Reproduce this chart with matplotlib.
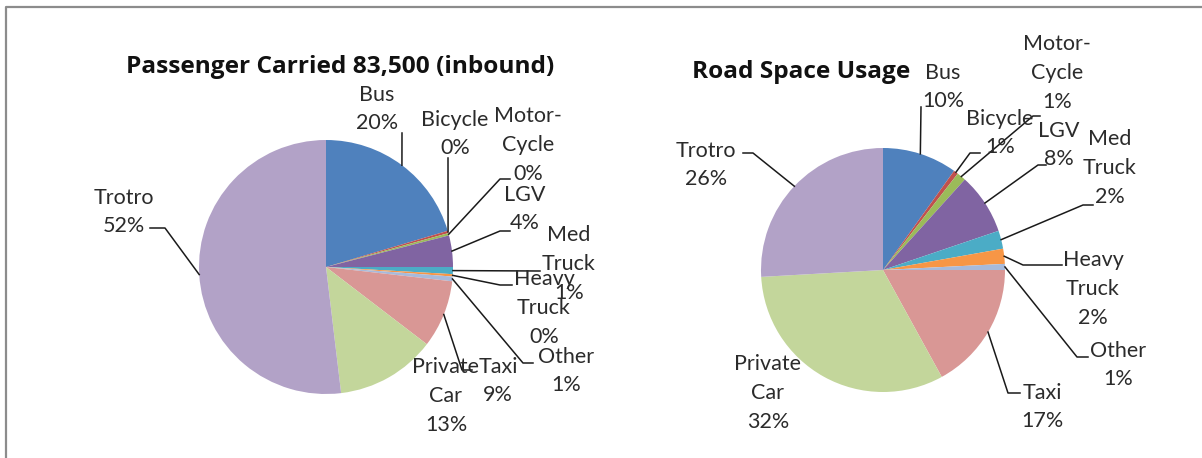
import numpy as np
import matplotlib
matplotlib.use("Agg")
import matplotlib.pyplot as plt

plt.rcParams["font.family"] = ["Lato", "DejaVu Sans"]

W, H = 1202, 458

categorias = ["Bus", "Bicycle", "Motor-Cycle", "LGV", "Med Truck",
              "Heavy Truck", "Other", "Taxi", "Private Car", "Trotro"]
etiquetas = ["Bus", "Bicycle", "Motor-\nCycle", "LGV", "Med\nTruck",
             "Heavy\nTruck", "Other", "Taxi", "Private\nCar", "Trotro"]

# porcentaje de pasajeros transportados (entrada)
pasajeros = [20.4, 0.3, 0.3, 4.0, 0.9, 0.3, 0.6, 8.6, 12.7, 51.9]
# porcentaje del espacio vial ocupado
espacio = [9.9, 0.6, 1.2, 8.1, 2.4, 2.0, 0.8, 17.0, 32.1, 25.9]

colores = ["#4F81BD", "#C0504D", "#9BBB59", "#8064A2", "#4BACC6",
           "#F79646", "#A7BADB", "#D99795", "#C3D69B", "#B2A2C7"]

titulo_izq = "Passenger Carried 83,500 (inbound)"
titulo_der = "Road Space Usage"

# posiciones de las etiquetas (pixeles, y hacia abajo)
pos_izq = [(377, 109), (455, 134), (528, 145), (525, 209), (569, 264),
           (544, 308), (566, 371), (498, 381), (446, 396), (124, 212)]
pos_der = [(943, 87), (1000, 133), (1057, 73), (1059, 145), (1110, 168),
           (1093, 289), (1118, 365), (1042, 407), (768, 393), (706, 165)]

# quiebres de las lineas guia
guias_izq = [[(402, 133)], [(448, 158)], [(500, 179), (510, 179)],
             [(500, 231), (510, 231)], [(540, 271)], [(500, 285), (512, 285)],
             [(523, 363), (533, 363)], [(462, 370), (472, 370)], None,
             [(165, 228), (150, 228)]]
guias_der = [[(921, 107)], [(970, 153), (980, 153)], [(1033, 116), (1040, 116)],
             [(1038, 165), (1046, 165)], [(1083, 205), (1093, 205)],
             [(1023, 265), (1062, 265)], [(1077, 357), (1088, 357)],
             [(1008, 393), (1020, 393)], None, [(753, 153), (743, 153)]]


def px(x, y):
    return x, H - y


def dibujar_torta(ax, valores, centro, radio, posiciones, guias, titulo, pos_titulo):
    cx, cy = px(*centro)
    cunas, _ = ax.pie(valores, colors=colores, startangle=90, counterclock=False,
                      center=(cx, cy), radius=radio, wedgeprops=dict(linewidth=0))
    total = sum(valores)
    for cuna, v, nombre, pos, guia in zip(cunas, valores, etiquetas, posiciones, guias):
        texto = f"{nombre}\n{round(v / total * 100)}%"
        ax.text(*px(*pos), texto, ha="center", va="center", fontsize=15.5,
                color="#2b2b2b", linespacing=1.55, zorder=4)
        if guia is None:
            continue
        medio = np.deg2rad((cuna.theta1 + cuna.theta2) / 2)
        xs = [cx + radio * np.cos(medio)] + [p[0] for p in guia]
        ys = [cy + radio * np.sin(medio)] + [H - p[1] for p in guia]
        ax.plot(xs, ys, color="#1a1a1a", lw=1.1, zorder=3)
    ax.text(*px(*pos_titulo), titulo, ha="center", va="center", fontsize=17.6,
            fontweight="bold", color="#111111", family=["Open Sans", "DejaVu Sans"])


fig = plt.figure(figsize=(W / 100, H / 100), dpi=100)
ax = fig.add_axes([0, 0, 1, 1])

dibujar_torta(ax, pasajeros, (326, 267), 127, pos_izq, guias_izq, titulo_izq, (340, 67))
dibujar_torta(ax, espacio, (883, 270), 122, pos_der, guias_der, titulo_der, (801, 72))

# marco superior e izquierdo
ax.plot([6, 6, W], [0, H - 7, H - 7], color="#8c8c8c", lw=1.6)

ax.set_xlim(0, W)
ax.set_ylim(0, H)
ax.set_aspect("equal")
ax.axis("off")

fig.savefig("out.png", dpi=100)
